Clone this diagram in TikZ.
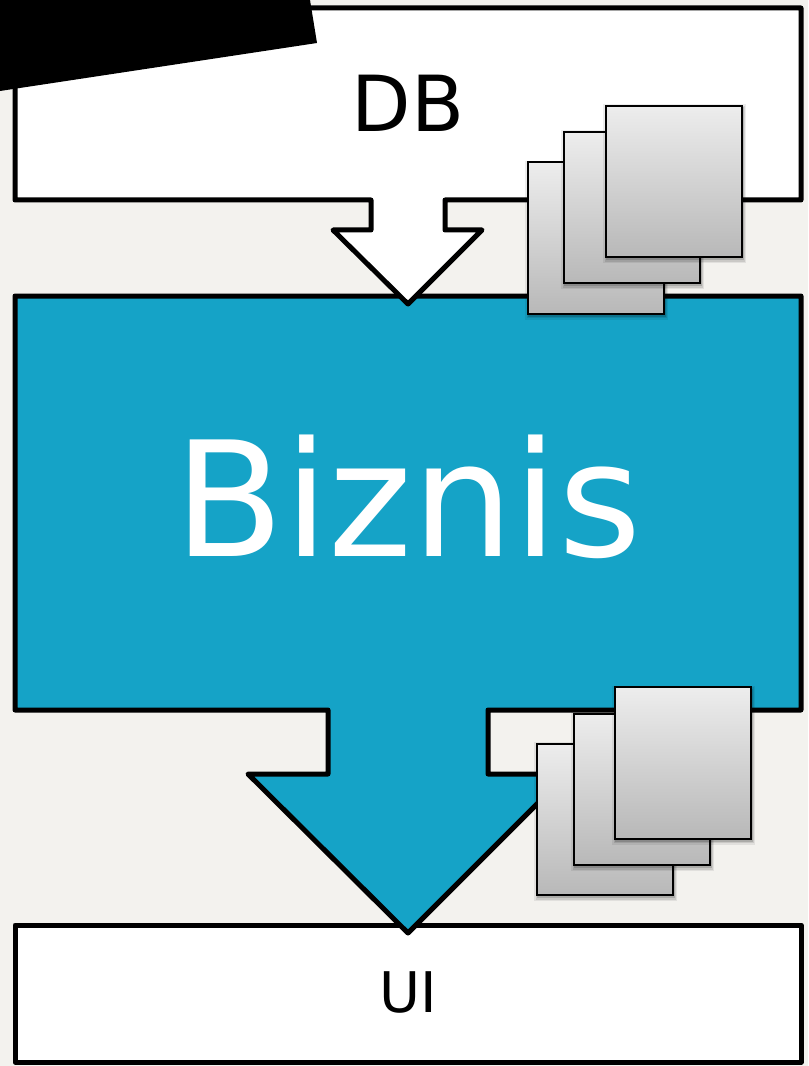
\documentclass[tikz,border=0pt]{standalone}
\usepackage{fontspec}
\setmainfont{DejaVu Sans}
\usetikzlibrary{shadows}
\definecolor{pagebg}{HTML}{F3F2EE}
\definecolor{bizblue}{HTML}{15A3C7}
\definecolor{cardtop}{HTML}{EDEDED}
\definecolor{cardbot}{HTML}{B8B8B8}
\tikzset{
  block/.style={draw=black,line width=3.75pt,line join=round,fill=white},
  softlayer/.style={general shadow={fill=black,fill opacity=.09,draw=none,shadow xshift=#1,shadow yshift=-1.6pt}},
  card/.style={rectangle,draw=black,line width=1.5pt,top color=cardtop,bottom color=cardbot,
    inner sep=0pt,minimum width=102pt,minimum height=113.5pt,
    general shadow={fill=black,fill opacity=.07,draw=none,shadow xshift=.6pt,shadow yshift=-1.6pt,shadow scale=1.05},
    general shadow={fill=black,fill opacity=.10,draw=none,shadow xshift=.6pt,shadow yshift=-1.6pt,shadow scale=1.03},
    general shadow={fill=black,fill opacity=.15,draw=none,shadow xshift=.6pt,shadow yshift=-1.6pt,shadow scale=1.01}},
  label/.style={inner sep=0pt,anchor=center}
}
\begin{document}
\begin{tikzpicture}[x=0.75pt,y=-0.75pt]
\useasboundingbox (0,0) rectangle (808,1066);
\fill[pagebg] (0,0) rectangle (808,1066);
% UI
\draw[block] (15,925) rectangle (801,1062);
\node[label] (ui) at (408,992) {\fontsize{42}{50}\selectfont UI};
% Biznis
\draw[block,fill=bizblue] (15,296) -- (801,296) -- (801,710) -- (488,710) -- (488,774) -- (567,774) -- (408,933) -- (248,774) -- (328,774) -- (328,710) -- (15,710) -- cycle;
\node[label,text=white] (biz) at (408,497) {\fontsize{120}{140}\selectfont Biznis};
% DB
\draw[block] (15,8) -- (801,8) -- (801,200) -- (445,200) -- (445,230) -- (482,230) -- (408,304) -- (333,230) -- (371,230) -- (371,200) -- (15,200) -- cycle;
\node[label] (db) at (408,103) {\fontsize{58}{70}\selectfont DB};
% black shape
\fill[black] (0,0) -- (310,0) -- (317,43) -- (0,91) -- cycle;
% upper stack
\node[card] (a1) at (596,238) {};
\node[card] (a2) at (632,207.5) {};
\node[card] (a3) at (674,181.5) {};
% lower stack
\node[card] (b1) at (605,819.5) {};
\node[card] (b2) at (642,789.5) {};
\node[card] (b3) at (683,763) {};
\end{tikzpicture}
\end{document}
